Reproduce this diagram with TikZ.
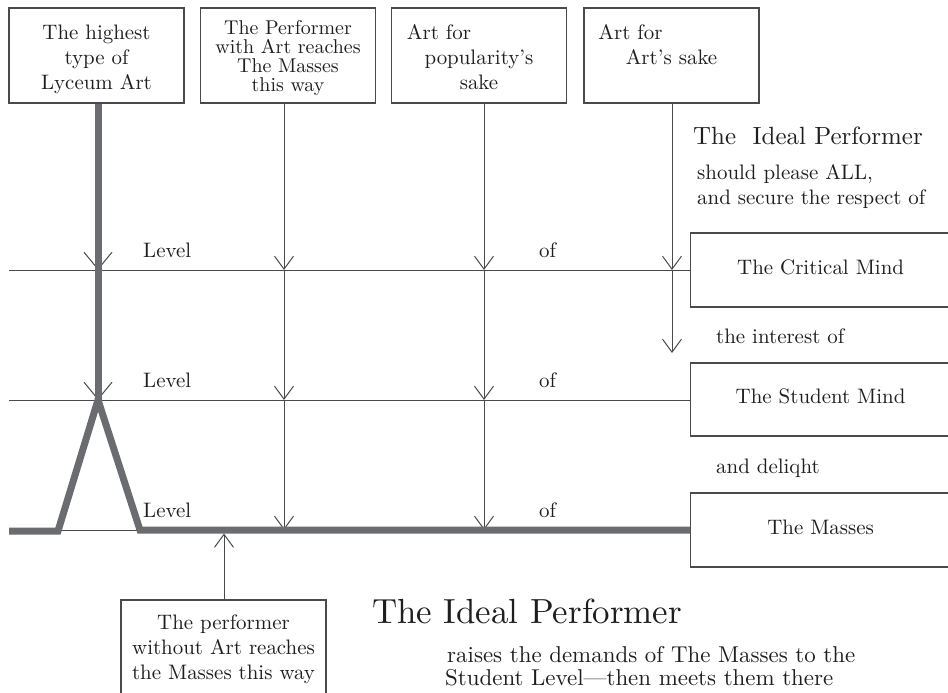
\documentclass[tikz,border=0pt]{standalone}
\usepackage{fontspec}
\setmainfont{lmroman10-regular.otf}
\usetikzlibrary{arrows.meta}
\definecolor{linegray}{HTML}{4A4A4A}
\definecolor{thickgray}{HTML}{6B6C70}
\definecolor{inkgray}{HTML}{1E1E1E}
\begin{document}
\begin{tikzpicture}
  [x=1bp,y=-1bp,
   every node/.style={inner sep=0pt,text=inkgray,font=\fontsize{21}{25}\selectfont},
   box/.style={draw=linegray,line width=1.2bp,minimum width=175bp,minimum height=95bp,align=center},
   mind/.style={draw=linegray,line width=1.2bp,minimum width=260bp,minimum height=74bp,anchor=west,text depth=6bp},
   wire/.style={draw=linegray,line width=1bp},
   arr/.style={wire,-{Straight Barb[length=13bp,width=19bp]}},
   bigarr/.style={wire,-{Straight Barb[length=17bp,width=28bp]}},
   heavy/.style={draw=thickgray,line width=7bp},
   txt/.style={anchor=base west}]
  \clip (0,0) rectangle (948,693);

  \foreach \i/\x in {1/98,2/284,3/484,4/672}
    \foreach \j/\y in {1/270,2/400,3/530}
      \coordinate (p\i\j) at (\x,\y);

  % top boxes (struts push the text down a little)
  \node[box] (b1) at (96.5,55.5) {\rule{0pt}{22.6bp}The highest\\type of\\Lyceum Art};
  \node[box,font=\fontsize{20}{19}\selectfont] (b2) at (288,55.5) {\rule{0pt}{19bp}The Performer\\with Art reaches\\The Masses\\this way};
  \node[box] (b3) at (479,55.5) {\rule{0pt}{17.8bp}Art for\rule{80bp}{0pt}\\popularity's\\sake};
  \node[box] (b4) at (671.5,55.5) {\rule{0pt}{17.8bp}Art for\rule{82bp}{0pt}\\Art's sake\\\mbox{}};

  \node[mind] (m1) at (690,270) {The Critical Mind};
  \node[mind,minimum height=73bp] (m2) at (690,399.5) {The Student Mind};
  \node[mind] (m3) at (690,530) {The Masses};

  \node[box,minimum width=205bp,minimum height=98bp] (b5) at (223.5,649) {The performer\\without Art reaches\\the Masses this way};

  \coordinate (s1) at (9,270);
  \coordinate (s2) at (9,400);
  \coordinate (s3) at (9,530);
  \foreach \j in {1,2,3}
    \draw[wire] (s\j) -- (s\j -| m\j.west);

  \foreach \i in {2,3} {
    \draw[arr] (b\i.south -| p\i1) -- (p\i1);
    \draw[arr] (p\i1) -- (p\i2);
    \draw[arr] (p\i2) -- (p\i3);
  }
  \coordinate (e4) at (672,353);
  \draw[arr] (b4.south -| p41) -- (p41);
  \draw[arr] (p41) -- (e4);

  \draw[bigarr] (b1.south -| p11) -- (p11);
  \draw[bigarr] (p11) -- (p12);
  \draw[heavy] (b1.south -| p11) -- (p12);

  \coordinate (k1) at (9,531);
  \coordinate (k2) at (58,531);
  \coordinate (k3) at (140,530);
  \draw[heavy] (k1) -- (k2) -- (p12) -- (k3) -- (k3 -| m3.west);

  \coordinate (q) at (224,533.5);
  \draw[arr] (b5.north -| q) -- (q);

  \foreach \j/\y in {1/257,2/387,3/517} {
    \node[txt] (lv\j) at (143,\y) {Level};
    \node[txt] (of\j) at (539,\y) {of};
  }

  \node[txt,font=\fontsize{25}{30}\selectfont] (ip1) at (693,145) {The\ \ Ideal Performer};
  \node[txt] (pl) at (697,180) {should please ALL,};
  \node[txt] (rs) at (697,204) {and secure the respect of};
  \node[txt] (in) at (716,343) {the interest of};
  \node[txt] (dl) at (716,473) {and deliqht};

  \node[txt,font=\fontsize{35}{42}\selectfont] (ip2) at (372,623) {The Ideal Performer};
  \node[txt,font=\fontsize{23}{27}\selectfont] (rd1) at (447,662) {raises the demands of The Masses to the};
  \node[txt,font=\fontsize{23}{27}\selectfont] (rd2) at (445,685) {Student Level---then meets them there};
\end{tikzpicture}
\end{document}
